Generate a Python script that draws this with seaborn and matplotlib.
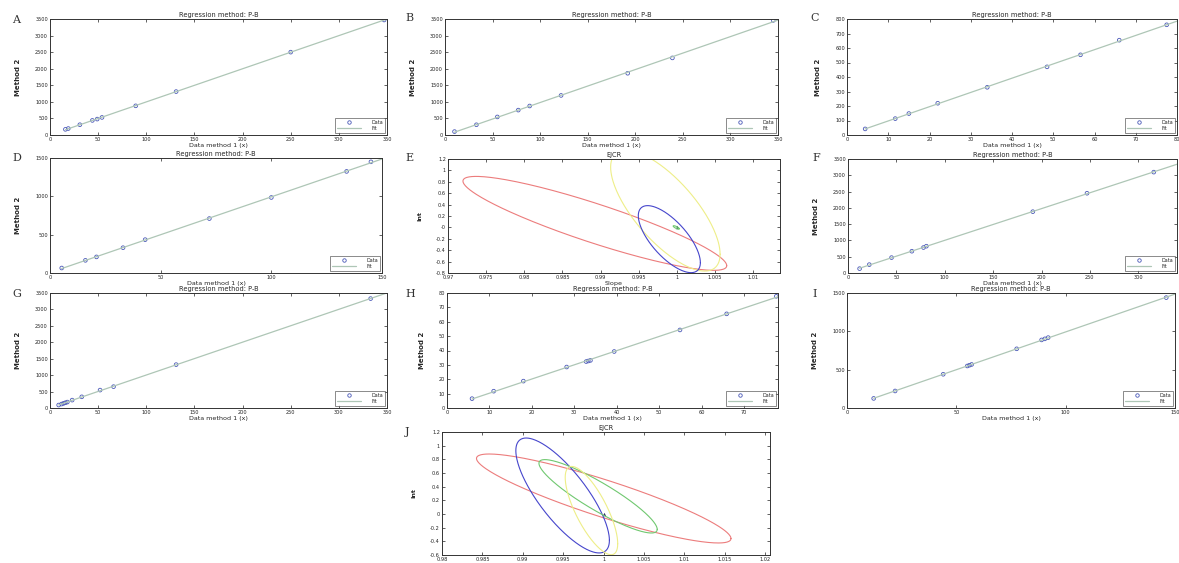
import numpy as np
import pandas as pd
import matplotlib
matplotlib.use("Agg")
import matplotlib.pyplot as plt
from matplotlib.lines import Line2D
import seaborn as sns

sns.set_theme(style="ticks")
plt.rcParams["font.family"] = ["DejaVu Sans"]

# ---------------- data ----------------
A_x = [16, 19, 31, 44, 49, 54, 89, 131, 250, 347]
A_y = [170, 195, 310, 440, 480, 530, 880, 1310, 2500, 3470]

B_x = [10, 33, 55, 77, 89, 122, 192, 239, 345]
B_y = [103, 309, 545, 751, 875, 1194, 1863, 2326, 3457]

C_x = [4.4, 11.7, 15, 22, 34, 48.5, 56.6, 66, 77.5]
C_y = [42, 113, 148, 219, 329, 470, 553, 654, 760]

D_x = [5.3, 16, 21, 33, 43, 72, 100, 134, 145]
D_y = [65, 165, 210, 330, 435, 710, 985, 1325, 1450]

F_x = [12, 22, 45, 66, 78, 81, 191, 247, 316]
F_y = [134, 257, 473, 669, 782, 823, 1883, 2449, 3097]

G_x = [9, 12, 14, 16, 18, 23, 33, 52, 66, 131, 333]
G_y = [90, 120, 140, 160, 180, 240, 340, 545, 650, 1320, 3330]

H_x = [5.9, 11, 18, 28.2, 32.8, 33.3, 33.8, 39.4, 54.9, 65.9, 77.6]
H_y = [6.5, 11.7, 18.7, 28.5, 32.3, 32.7, 33.1, 39.3, 54.3, 65.5, 77.7]

I_x = [12.2, 22, 44, 55, 56, 57, 77.6, 89, 90.5, 92, 146]
I_y = [125, 222, 440, 548, 558, 568, 772, 888, 902, 918, 1440]

# EJCR ellipses: centre slope, centre intercept, half-width slope, half-height intercept, correlation
E_names = ["red", "yellow", "blue", "green"]
E_cx = [0.98924, 0.99848, 0.99900, 0.99990]
E_cy = [0.0706, 0.294, -0.206, 0.000]
E_sx = [0.01728, 0.00717, 0.004065, 0.0004]
E_sy = [0.824, 1.06, 0.588, 0.03]
E_rho = [-0.90, -0.72, -0.70, -0.80]

J_names = ["red", "blue", "green", "yellow"]
J_cx = [1.00002, 0.99493, 0.99932, 0.99850]
J_cy = [0.227, 0.271, 0.259, 0.050]
J_sx = [0.01575, 0.00579, 0.00732, 0.00325]
J_sy = [0.651, 0.841, 0.537, 0.646]
J_rho = [-0.90, -0.78, -0.90, -0.75]

ideal_slope = [1.0]
ideal_intercept = [0.0]

# ---------------- styling ----------------
W, H = 1179, 563
fig = plt.figure(figsize=(W / 100, H / 100), dpi=100)
fig.patch.set_facecolor("white")

PT_COLOR = "#4a58b8"
FIT_COLOR = "#aec6b6"
ELL_COLORS = {"red": "#ec7c7c", "yellow": "#eeee88", "blue": "#4646cc", "green": "#70c870"}
TICK_FS = 3.6
LAB_FS = 4.6
TITLE_FS = 4.8


def add_ax(l, t, r, b):
    return fig.add_axes([l / W, 1 - b / H, (r - l) / W, (b - t) / H])


def style(ax):
    ax.set_facecolor("white")
    for s in ax.spines.values():
        s.set_linewidth(0.7)
        s.set_color("#333333")
        s.set_visible(True)
    ax.tick_params(direction="in", top=True, right=True, length=2, width=0.5,
                   labelsize=TICK_FS, pad=1.5, colors="#222222")


def letter(x, y, s):
    fig.text(x / W, 1 - y / H, s, fontsize=8, family="DejaVu Serif",
             ha="left", va="center", color="#333333")


def scatter_panel(rect, lab, lxy, xs, ys, xlim, ylim, xticks, yticks):
    ax = add_ax(*rect)
    style(ax)
    xs = np.asarray(xs, float)
    ys = np.asarray(ys, float)
    b, a = np.polyfit(xs, ys, 1)
    xf = np.linspace(xs.min(), xlim[1], 50)
    sns.lineplot(x=xf, y=a + b * xf, ax=ax, color=FIT_COLOR, lw=0.9,
                 sort=False, estimator=None)
    sns.scatterplot(x=xs, y=ys, ax=ax, marker="o", s=7, facecolors="none",
                    edgecolors=PT_COLOR, linewidth=0.6)
    ax.set_xlim(*xlim)
    ax.set_ylim(*ylim)
    ax.set_xticks(xticks)
    ax.set_yticks(yticks)
    ax.set_title("Regression method: P-B", fontsize=TITLE_FS, pad=1.5)
    ax.set_xlabel("Data method 1 (x)", fontsize=LAB_FS, labelpad=0.5)
    ax.set_ylabel("Method 2", fontsize=LAB_FS + 0.4, fontweight="bold", labelpad=10)
    handles = [Line2D([], [], marker="o", ls="none", mfc="none", mec=PT_COLOR, ms=2.5, mew=0.6),
               Line2D([], [], color=FIT_COLOR, lw=0.9)]
    leg = ax.legend(handles, ["Data", "Fit"], loc="lower right", fontsize=3.5,
                    frameon=True, fancybox=False, handlelength=5, borderpad=0.35,
                    labelspacing=0.25, handletextpad=2.0, borderaxespad=0.5)
    leg.get_frame().set_edgecolor("#333333")
    leg.get_frame().set_linewidth(0.5)
    letter(lxy[0], lxy[1], lab)
    return ax


def ellipse_panel(rect, lab, lxy, names, cx, cy, sx, sy, rho, xlim, ylim, xticks, yticks,
                  xlabel="Slope"):
    ax = add_ax(*rect)
    style(ax)
    t = np.linspace(0, 2 * np.pi, 300)
    for n, x0, y0, a, b, r in zip(names, cx, cy, sx, sy, rho):
        ex = x0 + a * np.cos(t)
        ey = y0 + b * (r * np.cos(t) + np.sqrt(1 - r ** 2) * np.sin(t))
        sns.lineplot(x=ex, y=ey, ax=ax, color=ELL_COLORS[n], lw=0.8,
                     sort=False, estimator=None)
    sns.scatterplot(x=ideal_slope, y=ideal_intercept, ax=ax, marker="^", s=6,
                    color="#333366", linewidth=0)
    ax.set_xlim(*xlim)
    ax.set_ylim(*ylim)
    ax.set_xticks(xticks)
    ax.set_yticks(yticks)
    ax.set_xticklabels([f"{v:g}" for v in xticks])
    ax.set_yticklabels([f"{v:g}" for v in yticks])
    ax.set_title("EJCR", fontsize=TITLE_FS, pad=1.5)
    if xlabel:
        ax.set_xlabel(xlabel, fontsize=LAB_FS, labelpad=0.5)
    ax.set_ylabel("Int", fontsize=LAB_FS, fontweight="bold", labelpad=10)
    letter(lxy[0], lxy[1], lab)
    return ax


big_x = np.arange(0, 351, 50)
big_y = np.arange(0, 3501, 500)

scatter_panel((50, 19, 387, 135), "A", (12, 20), A_x, A_y, (0, 350), (0, 3500), big_x, big_y)
scatter_panel((445, 19, 778, 135), "B", (405, 18), B_x, B_y, (0, 350), (0, 3500), big_x, big_y)
scatter_panel((847, 19, 1177, 135), "C", (810, 18), C_x, C_y, (0, 80), (0, 800),
              np.arange(0, 81, 10), np.arange(0, 801, 100))
scatter_panel((50, 158, 382, 273), "D", (12, 158), D_x, D_y, (0, 150), (0, 1500),
              np.arange(0, 151, 50), np.arange(0, 1501, 500))
ellipse_panel((448, 159, 780, 273), "E", (405, 158), E_names, E_cx, E_cy, E_sx, E_sy, E_rho,
              (0.97, 1.0135), (-0.8, 1.2),
              np.round(np.arange(0.97, 1.0131, 0.005), 3), np.round(np.arange(-0.8, 1.21, 0.2), 1))
scatter_panel((848, 159, 1177, 273), "F", (812, 158), F_x, F_y, (0, 340), (0, 3500),
              np.arange(0, 301, 50), big_y)
scatter_panel((50, 293, 387, 408), "G", (12, 294), G_x, G_y, (0, 350), (0, 3500), big_x, big_y)
scatter_panel((447, 293, 778, 408), "H", (405, 294), H_x, H_y, (0, 78), (0, 80),
              np.arange(0, 71, 10), np.arange(0, 81, 10))
scatter_panel((847, 293, 1175, 408), "I", (812, 294), I_x, I_y, (0, 150), (0, 1500),
              np.arange(0, 151, 50), np.arange(0, 1501, 500))
ellipse_panel((442, 432, 770, 555), "J", (405, 432), J_names, J_cx, J_cy, J_sx, J_sy, J_rho,
              (0.98, 1.0206), (-0.6, 1.2),
              np.round(np.arange(0.98, 1.0201, 0.005), 3), np.round(np.arange(-0.6, 1.21, 0.2), 1),
              xlabel=None)

fig.savefig("out.png", dpi=100, facecolor="white")
